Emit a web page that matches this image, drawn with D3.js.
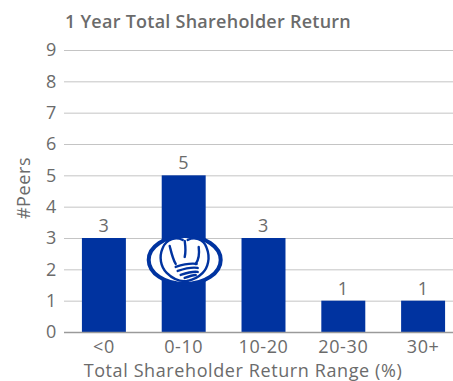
<!DOCTYPE html>
<html>
<head>
<meta charset="utf-8">
<script src="https://cdn.jsdelivr.net/npm/d3@7"></script>
<style>
  html, body { margin: 0; padding: 0; background: #fff; }
  svg { display: block; font-family: "Open Sans", sans-serif; }
  .lbl { font-size: 18px; letter-spacing: 0.6px; font-family: "Open Sans", sans-serif; }
</style>
</head>
<body>
<svg id="chart" width="453" height="381"></svg>
<script>
// Peer distribution of 1-year total shareholder return
const categories = ["<0", "0-10", "10-20", "20-30", "30+"];
const peers = [3, 5, 3, 1, 1];
const yTicks = [0, 1, 2, 3, 4, 5, 6, 7, 8, 9];

const svg = d3.select("#chart");
const W = 453;
const plotLeft = 64, plotTop = 50, plotBottom = 332;
const blue = "#0033a0";
const textGrey = "#6b6b6b";

const x = d3.scaleBand().domain(categories).range([plotLeft, 463]).paddingInner(0.449).paddingOuter(0.2245);
const y = d3.scaleLinear().domain([0, 9]).range([plotBottom, plotTop]);

// Title
svg.append("text")
  .attr("x", 65).attr("y", 28)
  .attr("fill", textGrey)
  .style("font-size", "18px").style("font-weight", 600).style("letter-spacing", "0.25px")
  .text("1 Year Total Shareholder Return");

// Y labels
const yAxis = svg.append("g").attr("transform", `translate(${plotLeft},0)`)
  .call(d3.axisLeft(y).tickValues(yTicks).tickSize(0).tickPadding(7).tickFormat(d3.format("d")));
yAxis.select(".domain").remove();
yAxis.selectAll("text").attr("class", "lbl").attr("fill", textGrey);

// Gridlines
svg.append("g").selectAll("line").data(yTicks.filter(d => d > 0)).join("line")
  .attr("x1", plotLeft).attr("x2", W)
  .attr("y1", d => y(d) + 0.5).attr("y2", d => y(d) + 0.5)
  .attr("stroke", "#c4c4c4").attr("stroke-width", 1);

// Bars
svg.append("g").selectAll("rect").data(categories).join("rect")
  .attr("x", d => x(d))
  .attr("y", (d, i) => y(peers[i]))
  .attr("width", x.bandwidth())
  .attr("height", (d, i) => y(0) - y(peers[i]))
  .attr("fill", blue);

// Baseline
svg.append("line")
  .attr("x1", plotLeft).attr("x2", W)
  .attr("y1", y(0) + 0.5).attr("y2", y(0) + 0.5)
  .attr("stroke", "#9a9a9a").attr("stroke-width", 1.5);

// Value labels
svg.append("g").selectAll("text").data(categories).join("text")
  .attr("class", "lbl")
  .attr("x", d => x(d) + x.bandwidth() / 2)
  .attr("y", (d, i) => y(peers[i]) - 6)
  .attr("text-anchor", "middle")
  .attr("fill", textGrey)
  .text((d, i) => peers[i]);

// X axis labels
const xAxis = svg.append("g").attr("transform", `translate(0,${plotBottom})`)
  .call(d3.axisBottom(x).tickSize(0).tickPadding(8));
xAxis.select(".domain").remove();
xAxis.selectAll("text").attr("class", "lbl").attr("fill", textGrey);

// Axis titles
svg.append("text")
  .attr("class", "lbl")
  .attr("x", 243).attr("y", 377)
  .attr("text-anchor", "middle")
  .attr("fill", textGrey)
  .text("Total Shareholder Return Range (%)");

svg.append("text")
  .attr("class", "lbl")
  .attr("transform", "translate(30,188) rotate(-90)")
  .attr("text-anchor", "middle")
  .attr("fill", textGrey)
  .text("#Peers");

// Cupped-hands emblem over the 0-10 bar
const cx = x("0-10") + x.bandwidth() / 2 + 1;
const cy = y(2.3);
const logo = svg.append("g").attr("transform", `translate(${cx},${cy})`);
logo.append("ellipse").attr("rx", 36).attr("ry", 24)
  .attr("fill", "#fff").attr("stroke", blue).attr("stroke-width", 4);
const handPaths = [
  // left hand outline
  "M -2,-20 C -8,-23 -18,-22 -22,-12 C -26,-3 -24,7 -18,13 C -12,19 -4,22 3,21",
  // right hand outline
  "M 3,-20 C 9,-23 19,-22 22,-12 C 26,-2 23,8 18,13 C 13,18 8,20 3,21",
  // thumbs and center seam
  "M -15,-14 C -13,-6 -12,-1 -9,4",
  "M 0,-19 C 1,-12 1,-7 0,-3",
  "M 14,-13 C 15,-5 14,0 11,4",
  // fingers
  "M -9,7 C -3,5 5,3 12,4",
  "M -7,11 C -1,9 7,7 13,8",
  "M -4,15 C 2,13 8,11 13,12",
  "M 0,18 C 5,16 9,15 11,15"
];
logo.selectAll("path").data(handPaths).join("path")
  .attr("d", d => d)
  .attr("stroke", blue).attr("stroke-width", 2.4).attr("fill", "none")
  .attr("stroke-linecap", "round").attr("stroke-linejoin", "round");
</script>
</body>
</html>
